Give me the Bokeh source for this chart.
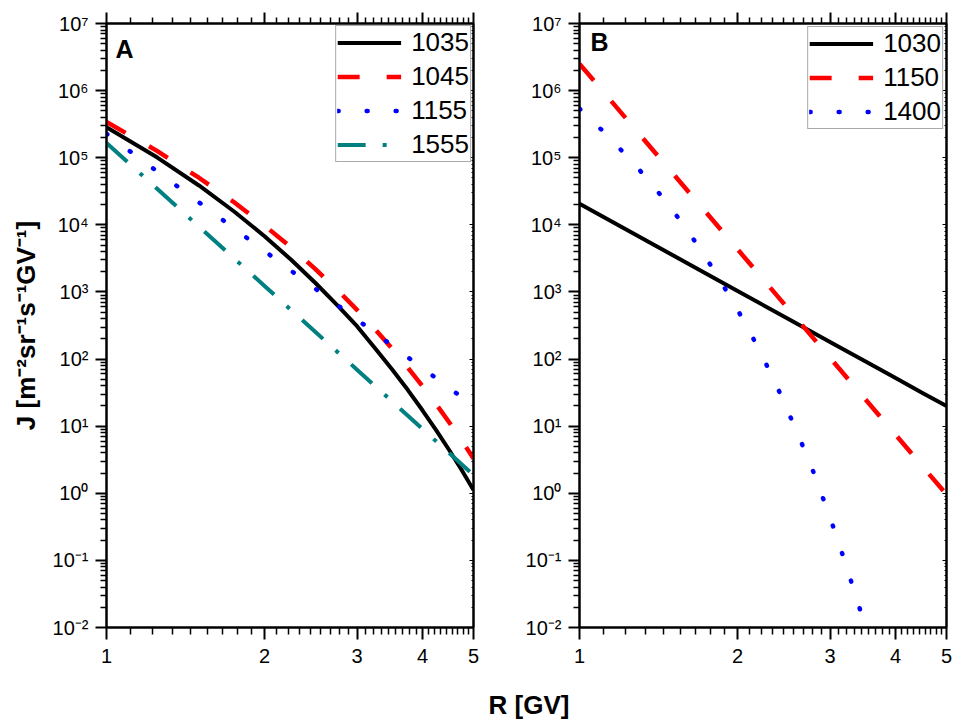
from bokeh.plotting import figure
from bokeh.models import FixedTicker, LogAxis, Label, Legend, LegendItem, Range1d, Title
from bokeh.layouts import row
from bokeh.embed import file_html
from bokeh.resources import INLINE

# ---------------- data ----------------
# Panel A
R_A = [1.0, 1.25, 1.5, 1.75, 2.0, 2.25, 2.5, 2.75, 3.0, 3.25, 3.5, 3.75, 4.0, 4.25, 4.5, 4.75, 5.0]
J_A_1035 = [2.85e5, 1.005e5, 3.86e4, 1.58e4, 6.76e3, 2.99e3, 1.36e3, 634, 309, 144, 70.0, 34.5,
            17.1, 8.59, 4.34, 2.20, 1.12]
J_A_1045 = [3.42e5, 1.253e5, 5.035e4, 2.168e4, 9.75e3, 4.56e3, 2.188e3, 1.079e3, 539.5, 275.4, 142.2,
            74.3, 39.3, 20.9, 11.25, 6.08, 3.31]
J_A_1155 = [2.27e5, 6.22e4, 2.163e4, 8.85e3, 4.07e3, 2.056e3, 1.117e3, 643, 388, 244, 158.5, 106.2,
            73.1, 51.4, 36.9, 27.0, 20.0]
J_A_1555 = [1.66e5, 3.42e4, 9.40e3, 3.16e3, 1.227e3, 532, 253, 128.8, 69.5, 39.4, 23.3, 14.3,
            9.06, 5.90, 3.94, 2.69, 1.87]
LABELS_A = ["1035", "1045", "1155", "1555"]

# Panel B
R_B = [1.0, 1.5, 2.0, 2.5, 3.0, 3.5, 4.0, 4.5, 5.0]
J_B_1030 = [2.06e4, 3.58e3, 1.035e3, 395, 180, 92.5, 52.0, 31.3, 19.9]
J_B_1150 = [2.506e6, 6.05e4, 4.325e3, 557, 104.5, 25.4, 7.45, 2.52, 0.959]
R_B_1400 = [1.0, 1.1, 1.2, 1.3, 1.4, 1.5, 1.6, 1.7, 1.8, 1.9, 2.0, 2.2, 2.4, 2.6, 2.8, 3.0, 3.2, 3.4, 3.6]
J_B_1400 = [5.37e5, 2.63e5, 1.303e5, 6.61e4, 3.35e4, 1.70e4, 8.51e3, 4.32e3, 2.14e3, 1.07e3, 543,
            138, 33.1, 7.94, 1.93, 0.437, 0.0977, 0.0219, 0.0050]
LABELS_B = ["1030", "1150", "1400"]

# Axes
X_TICKS = [1, 2, 3, 4, 5]
X_TICK_LABELS = ["1", "2", "3", "4", "5"]
Y_TICKS = [1e-2, 1e-1, 1e0, 1e1, 1e2, 1e3, 1e4, 1e5, 1e6, 1e7]
Y_TICK_LABELS = ["10\u207b\u00b2", "10\u207b\u00b9", "10\u2070", "10\u00b9", "10\u00b2",
                 "10\u00b3", "10\u2074", "10\u2075", "10\u2076", "10\u2077"]
Y_TITLE = "J [m\u207b\u00b2sr\u207b\u00b9s\u207b\u00b9GV\u207b\u00b9]"
X_TITLE = "R [GV]"

FONT = "Liberation Sans"
H = 721

x_minor = []
for a, b in zip(X_TICKS[:-1], X_TICKS[1:]):
    x_minor += [a + k * (b - a) / 9 for k in range(1, 9)]
y_minor = [k * t for t in Y_TICKS[:-1] for k in range(2, 10)]


def style_axis(ax, ticker, labels=None, tick_out=11, minor_out=6, tick_in=0, minor_in=0):
    ax.ticker = ticker
    ax.axis_line_width = 2
    ax.axis_line_color = "black"
    ax.major_tick_line_width = 2
    ax.minor_tick_line_width = 1.5
    ax.major_tick_line_color = "black"
    ax.minor_tick_line_color = "black"
    ax.major_tick_out = tick_out
    ax.major_tick_in = tick_in
    ax.minor_tick_out = minor_out
    ax.minor_tick_in = minor_in
    if labels is not None:
        ax.major_label_overrides = labels
        ax.major_label_text_font = FONT
        ax.major_label_text_font_size = "20px"
        ax.major_label_text_color = "black"
    else:
        ax.major_label_text_font_size = "1px"
        ax.major_label_text_color = None
        ax.major_label_standoff = 0


def make_panel(width, border_left, border_right):
    p = figure(width=width, height=H, x_axis_type="log", y_axis_type="log",
               x_range=Range1d(1, 5), y_range=Range1d(1e-2, 1e7),
               output_backend="svg", toolbar_location=None,
               min_border_left=border_left, min_border_right=border_right,
               min_border_top=23, min_border_bottom=94)
    p.grid.visible = False
    p.outline_line_color = "black"
    p.outline_line_width = 2
    p.background_fill_color = "white"
    p.border_fill_color = "white"
    xt = FixedTicker(ticks=X_TICKS, minor_ticks=x_minor)
    yt = FixedTicker(ticks=Y_TICKS, minor_ticks=y_minor)
    bottom = p.below[0]
    left = p.left[0]
    style_axis(bottom, xt, dict(zip(X_TICKS, X_TICK_LABELS)), tick_out=12, minor_out=7)
    bottom.major_label_standoff = 9
    style_axis(left, yt, dict(zip(Y_TICKS, Y_TICK_LABELS)))
    left.major_label_standoff = 7
    top = LogAxis()
    style_axis(top, xt)
    p.add_layout(top, "above")
    right = LogAxis()
    style_axis(right, yt, tick_out=0, minor_out=0, tick_in=4, minor_in=2)
    right.major_tick_line_width = 1
    right.minor_tick_line_width = 1
    p.add_layout(right, "right")
    return p


def add_legend(p, items, margin):
    lg = Legend(items=[LegendItem(label=l, renderers=[r]) for l, r in items],
                location="top_right", label_text_font=FONT, label_text_font_size="26px",
                label_text_color="black", glyph_width=64, glyph_height=29, label_height=29,
                label_standoff=10, spacing=3, padding=1, margin=margin,
                border_line_color="#555555", border_line_width=1,
                background_fill_color="white", background_fill_alpha=1)
    p.add_layout(lg)


def panel_label(p, text, dx, dy):
    p.add_layout(Label(x=1, y=1e7, x_offset=dx, y_offset=dy, text=text, text_font=FONT,
                       text_font_size="25px", text_font_style="bold", text_color="black",
                       text_baseline="alphabetic"))


# ---------------- panel A ----------------
pA = make_panel(483, 106, 10)
pA.left[0].axis_label = Y_TITLE
pA.left[0].axis_label_text_font = FONT
pA.left[0].axis_label_text_font_size = "26px"
pA.left[0].axis_label_text_font_style = "bold"
pA.left[0].axis_label_text_color = "black"
pA.left[0].axis_label_standoff = 9

a1 = pA.line(R_A, J_A_1035, line_color="black", line_width=4)
a2 = pA.line(R_A, J_A_1045, line_color="#ff0000", line_width=4.5, line_dash="22 27")
a3 = pA.line(R_A, J_A_1155, line_color="#0000ff", line_width=4.5, line_dash="1 28", line_cap="round")
a4 = pA.line(R_A, J_A_1555, line_color="#008080", line_width=4, line_dash="28 17 4 17")
add_legend(pA, list(zip(LABELS_A, [a1, a2, a3, a4])), 2)
panel_label(pA, "A", 9, -25)

# ---------------- panel B ----------------
pB = make_panel(469, 96, 6)
b1 = pB.line(R_B, J_B_1030, line_color="black", line_width=4)
b2 = pB.line(R_B, J_B_1150, line_color="#ff0000", line_width=4.5, line_dash="22 27")
b3 = pB.line(R_B_1400, J_B_1400, line_color="#0000ff", line_width=4.5, line_dash="1 28", line_cap="round")
add_legend(pB, list(zip(LABELS_B, [b1, b2, b3])), 3)
panel_label(pB, "B", 11, -18)

# invisible spacer under the tick labels, then the shared x title
spacer = pB.below[0]
spacer.axis_label = " "
spacer.axis_label_text_font_size = "1px"
spacer.axis_label_text_color = None
spacer.axis_label_standoff = 18
pB.add_layout(Title(text=X_TITLE, align="left", offset=-91, standoff=0, text_font=FONT,
                    text_font_size="26px", text_font_style="bold", text_color="black"), "below")

layout = row(pA, pB)
open("out.html", "w").write(file_html(layout, INLINE))
